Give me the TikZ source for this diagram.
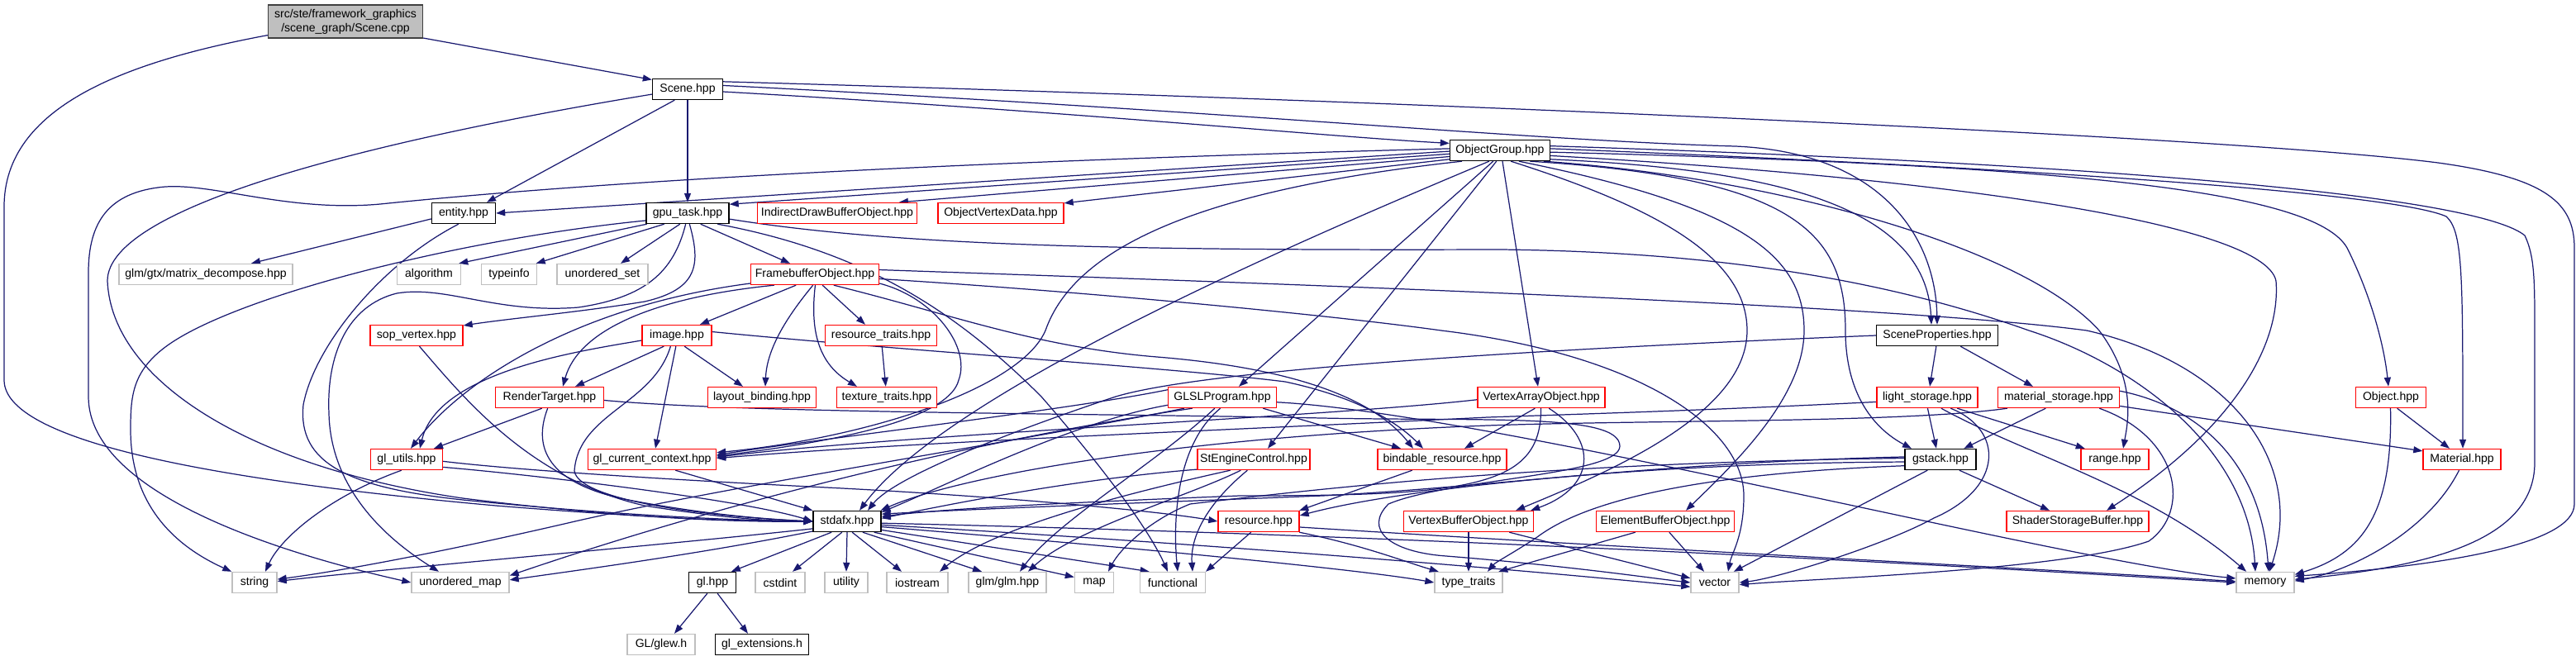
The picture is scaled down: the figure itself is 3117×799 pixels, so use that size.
\documentclass[tikz,border=0pt]{standalone}
\usepackage{fontspec}
\setmainfont{Liberation Sans}
\usetikzlibrary{arrows.meta,calc}
\definecolor{edgec}{HTML}{191970}
\definecolor{redc}{HTML}{FF0000}
\definecolor{gryc}{HTML}{BFBFBF}
\definecolor{blkc}{HTML}{000000}
\pgfdeclarelayer{bg}
\pgfsetlayers{bg,main}
\tikzset{
  nd/.style={draw, fill=white, line width=0.8pt, inner sep=0pt, minimum height=0.5cm,
    font=\fontsize{8}{9.6}\selectfont, text=black, anchor=center},
  blk/.style={nd, draw=blkc},
  redn/.style={nd, draw=redc},
  gryn/.style={nd, draw=gryc},
  e/.style={draw=edgec, line width=0.7pt, -{Triangle[length=0.22cm,width=0.16cm]}},
}
\begin{document}
\begin{tikzpicture}[x=0.02cm,y=-0.02cm]
\useasboundingbox (0,0) rectangle (3117,799);
% ---------- nodes ----------
\node[nd, draw=black!75, fill=gryc, minimum width=3.74cm, minimum height=0.8cm, align=center] (scenecpp) at (418,26) {src/ste/framework\_graphics\\/scene\_graph/Scene.cpp};
\node[blk, minimum width=1.70cm] (sceneh) at (832,108) {Scene.hpp};
\node[blk, minimum width=2.42cm] (objgroup) at (1815,182) {ObjectGroup.hpp};
\node[blk, minimum width=1.54cm] (entity) at (561,258) {entity.hpp};
\node[blk, minimum width=2.00cm] (gputask) at (832,258) {gpu\_task.hpp};
\node[redn, minimum width=3.86cm] (indirect) at (1013,258) {IndirectDrawBufferObject.hpp};
\node[redn, minimum width=3.04cm] (objvert) at (1211,258) {ObjectVertexData.hpp};
\node[gryn, minimum width=4.20cm] (matdec) at (249,332) {glm/gtx/matrix\_decompose.hpp};
\node[gryn, minimum width=1.54cm] (algorithm) at (519,332) {algorithm};
\node[gryn, minimum width=1.34cm] (typeinfo) at (616,332) {typeinfo};
\node[gryn, minimum width=2.20cm] (uset) at (729,332) {unordered\_set};
\node[redn, minimum width=3.10cm] (fbo) at (986,332) {FramebufferObject.hpp};
\node[blk, minimum width=2.94cm] (sceneprops) at (2344,406) {SceneProperties.hpp};
\node[redn, minimum width=2.24cm] (sopvertex) at (504,406) {sop\_vertex.hpp};
\node[redn, minimum width=1.68cm] (image) at (819,406) {image.hpp};
\node[redn, minimum width=2.70cm] (restraits) at (1066,406) {resource\_traits.hpp};
\node[redn, minimum width=2.62cm] (rendertarget) at (665,481) {RenderTarget.hpp};
\node[redn, minimum width=2.62cm] (layout) at (922,481) {layout\_binding.hpp};
\node[redn, minimum width=2.42cm] (textraits) at (1073,481) {texture\_traits.hpp};
\node[redn, minimum width=2.62cm] (glsl) at (1479,481) {GLSLProgram.hpp};
\node[redn, minimum width=3.08cm] (vao) at (1865,481) {VertexArrayObject.hpp};
\node[redn, minimum width=2.44cm] (lightst) at (2332,481) {light\_storage.hpp};
\node[redn, minimum width=2.94cm] (matst) at (2491,481) {material\_storage.hpp};
\node[redn, minimum width=1.70cm] (object) at (2893,481) {Object.hpp};
\node[redn, minimum width=1.74cm] (glutils) at (492,556) {gl\_utils.hpp};
\node[redn, minimum width=3.10cm] (glcc) at (789,556) {gl\_current\_context.hpp};
\node[redn, minimum width=2.72cm] (stengine) at (1517,556) {StEngineControl.hpp};
\node[redn, minimum width=3.12cm] (bindable) at (1745,556) {bindable\_resource.hpp};
\node[blk, minimum width=1.72cm] (gstack) at (2348,556) {gstack.hpp};
\node[redn, minimum width=1.64cm] (range) at (2559,556) {range.hpp};
\node[redn, minimum width=1.88cm] (material) at (2979,556) {Material.hpp};
\node[blk, minimum width=1.64cm] (stdafx) at (1025,631) {stdafx.hpp};
\node[redn, minimum width=1.96cm] (resource) at (1523,631) {resource.hpp};
\node[redn, minimum width=3.14cm] (vbo) at (1777,631) {VertexBufferObject.hpp};
\node[redn, minimum width=3.34cm] (ebo) at (2015,631) {ElementBufferObject.hpp};
\node[redn, minimum width=3.44cm] (ssb) at (2514,631) {ShaderStorageBuffer.hpp};
\node[gryn, minimum width=1.08cm] (string) at (308,705) {string};
\node[gryn, minimum width=2.36cm] (umap) at (557,705) {unordered\_map};
\node[blk, minimum width=1.14cm] (glhpp) at (862,705) {gl.hpp};
\node[gryn, minimum width=1.20cm] (cstdint) at (944,705) {cstdint};
\node[gryn, minimum width=1.04cm] (utility) at (1024,705) {utility};
\node[gryn, minimum width=1.48cm] (iostream) at (1110,705) {iostream};
\node[gryn, minimum width=1.88cm] (glm) at (1219,705) {glm/glm.hpp};
\node[gryn, minimum width=0.94cm] (map) at (1324,705) {map};
\node[gryn, minimum width=1.58cm] (functional) at (1419,705) {functional};
\node[gryn, minimum width=1.64cm] (typetraits) at (1777,705) {type\_traits};
\node[gryn, minimum width=1.16cm] (vector) at (2075,705) {vector};
\node[gryn, minimum width=1.40cm] (memory) at (2741,705) {memory};
\node[gryn, minimum width=1.64cm] (glew) at (800,780) {GL/glew.h};
\node[blk, minimum width=2.26cm] (glext) at (922,780) {gl\_extensions.h};
% ---------- edges ----------
\begin{pgfonlayer}{bg}
% Scene.cpp
\draw[e] (scenecpp.-12) -- (sceneh.165);
\draw[e] (scenecpp.190) .. controls (150,75) and (5,130) .. (5,250) -- (5,460) .. controls (5,540) and (300,585) .. (600,612) .. controls (800,628) and (900,631) .. (stdafx.west);
% Scene.hpp
\draw[e] (sceneh.-140) -- ($(entity.north)+(28,0)$);
\draw[e] (sceneh) -- (gputask);
\draw[e] (sceneh.-4) .. controls (1300,135) and (1600,165) .. (objgroup.172);
\draw[e] (sceneh.6) .. controls (1500,135) and (1850,170) .. (2100,177) .. controls (2280,185) and (2342,290) .. (sceneprops.north);
\draw[e] (sceneh.12) .. controls (1700,122) and (2700,165) .. (2950,197) .. controls (3080,215) and (3115,245) .. (3115,300) -- (3115,610) .. controls (3115,660) and (2950,685) .. (memory.12);
\draw[e] (sceneh.188) .. controls (450,170) and (130,250) .. (130,340) .. controls (135,460) and (300,565) .. (560,603) .. controls (760,628) and (900,632) .. (stdafx.west);
% ObjectGroup
\draw[e] (objgroup.181) -- (entity.east);
\draw[e] (objgroup.184) -- (gputask.12);
\draw[e] (objgroup.187) -- (indirect.10);
\draw[e] (objgroup.190) -- (objvert.9);
\draw[e] (objgroup.178) .. controls (1300,192) and (800,212) .. (460,247) .. controls (350,257) and (260,222) .. (200,226) .. controls (130,232) and (107,270) .. (107,330) -- (107,480) .. controls (107,600) and (350,672) .. (umap.west);
\draw[e] (objgroup.196) .. controls (1450,230) and (1300,300) .. (1265,400) .. controls (1235,470) and (1050,530) .. (glcc.6);
\draw[e] (objgroup.225) .. controls (1600,280) and (1150,470) .. ($(stdafx.north)+(15,0)$);
\draw[e] (objgroup.238) -- ($(glsl.north)+(20,0)$);
\draw[e] (objgroup.252) -- ($(stengine.north)+(17,0)$);
\draw[e] ($(objgroup.south)+(3,0)$) -- ($(vao.north)+(-4,0)$);
\draw[e] (objgroup.-45) .. controls (2000,250) and (2114,310) .. (2114,400) .. controls (2114,500) and (1950,570) .. ($(vbo.north east)+(-22,0)$);
\draw[e] (objgroup.-30) .. controls (2110,250) and (2183,310) .. (2183,400) .. controls (2183,480) and (2100,560) .. ($(ebo.north)+(25,0)$);
\draw[e] (objgroup.-20) .. controls (2170,215) and (2233,280) .. (2233,400) .. controls (2233,480) and (2270,520) .. ($(gstack.north)+(-35,0)$);
\draw[e] (objgroup.-10) .. controls (2150,205) and (2330,250) .. ($(sceneprops.north)+(-7,0)$);
\draw[e] (objgroup.-6) .. controls (2350,215) and (2740,270) .. (2754,340) .. controls (2760,420) and (2700,520) .. ($(ssb.north)+(35,0)$);
\draw[e] (objgroup.-14) .. controls (2150,215) and (2450,300) .. (2540,400) .. controls (2585,460) and (2575,510) .. ($(range.north)+(10,0)$);
\draw[e] (objgroup.-2) .. controls (2500,200) and (2800,230) .. (2840,300) .. controls (2870,360) and (2885,420) .. ($(object.north)+(-3,0)$);
\draw[e] (objgroup.2) .. controls (2500,205) and (2900,235) .. (2960,262) .. controls (2980,280) and (2980,330) .. ($(material.north)+(1,0)$);
\draw[e] (objgroup.5) .. controls (2600,200) and (3000,240) .. (3055,285) .. controls (3067,310) and (3067,340) .. (3067,400) -- (3067,560) .. controls (3067,650) and (2950,685) .. (memory.6);
% entity
\draw[e] (entity.190) -- ($(matdec.north)+(55,0)$);
\draw[e] (entity.-115) .. controls (460,320) and (380,420) .. (367,490) .. controls (360,560) and (420,590) .. (560,605) .. controls (760,625) and (900,630) .. (stdafx.west);
% gpu_task
\draw[e] (gputask.195) -- (algorithm.20);
\draw[e] (gputask.205) -- (typeinfo.22);
\draw[e] (gputask.235) -- ($(uset.north)+(22,0)$);
\draw[e] (gputask.-40) -- ($(fbo.north)+(-30,0)$);
\draw[e] (gputask.190) .. controls (550,290) and (280,360) .. (200,420) .. controls (160,450) and (158,480) .. (158,520) .. controls (158,610) and (210,660) .. (string.north west);
\draw[e] (gputask.-80) .. controls (848,320) and (845,350) .. (780,365) .. controls (700,378) and (620,385) .. (sopvertex.12);
\draw[e] (gputask.-100) .. controls (815,330) and (780,360) .. (700,372) .. controls (600,380) and (540,345) .. (480,355) .. controls (420,370) and (395,430) .. (398,500) .. controls (400,600) and (480,660) .. ($(umap.north)+(-26,0)$);
\draw[e] (gputask.-20) .. controls (1050,305) and (1160,380) .. (1260,480) .. controls (1330,560) and (1390,640) .. ($(functional.north)+(-6,0)$);
\draw[e] (gputask.-8) .. controls (1100,300) and (1400,303) .. (1815,302) .. controls (2100,305) and (2300,345) .. (2455,400) .. controls (2580,440) and (2720,540) .. ($(memory.north)+(-12,0)$);
% FramebufferObject
\draw[e] (fbo.-150) -- ($(image.north)+(28,0)$);
\draw[e] (fbo.-55) -- ($(restraits.north)+(-19,0)$);
\draw[e] (fbo.-100) .. controls (955,380) and (928,420) .. ($(layout.north)+(4,0)$);
\draw[e] (fbo.-88) .. controls (980,400) and (990,440) .. ($(textraits.north)+(-36,0)$);
\draw[e] (fbo.195) .. controls (790,360) and (700,400) .. ($(rendertarget.north)+(16,0)$);
\draw[e] (fbo.188) .. controls (700,370) and (560,460) .. ($(glutils.north)+(5,0)$);
\draw[e] (fbo.-8) .. controls (1130,360) and (1175,420) .. (1160,460) .. controls (1150,500) and (1050,530) .. (glcc.3);
\draw[e] (fbo.-30) .. controls (1150,380) and (1253,420) .. (1400,432) .. controls (1560,445) and (1660,480) .. ($(bindable.north)+(-35,0)$);
\draw[e] (fbo.-4) .. controls (1300,352) and (1600,380) .. (1744,400) .. controls (1990,430) and (2110,520) .. (2110,600) .. controls (2110,650) and (2095,670) .. ($(vector.north)+(16,0)$);
\draw[e] (fbo.4) .. controls (1600,345) and (2300,370) .. (2525,400) .. controls (2700,440) and (2790,560) .. ($(memory.north)+(5,0)$);
% image
\draw[e] (image.-140) -- ($(rendertarget.north)+(31,0)$);
\draw[e] (image.-55) -- ($(layout.north)+(-23,0)$);
\draw[e] (image.-95) -- ($(glcc.north)+(4,0)$);
\draw[e] (image.188) .. controls (700,425) and (530,450) .. ($(glutils.north)+(16,0)$);
\draw[e] (image.-120) .. controls (790,490) and (700,500) .. (695,570) .. controls (700,605) and (850,625) .. (stdafx.west);
\draw[e] (image.6) .. controls (1100,425) and (1420,445) .. (1555,462) .. controls (1640,480) and (1690,510) .. ($(bindable.north)+(-23,0)$);
% resource_traits
\draw[e] (restraits) -- (textraits);
% RenderTarget
\draw[e] (rendertarget.-125) -- ($(glutils.north)+(33,0)$);
\draw[e] (rendertarget.-100) .. controls (645,540) and (660,585) .. (760,605) .. controls (850,622) and (920,628) .. (stdafx.west);
\draw[e] (rendertarget.-3) .. controls (900,500) and (1300,500) .. (1600,506) .. controls (1800,510) and (1960,500) .. (1960,540) .. controls (1960,575) and (1750,580) .. (1680,610) .. controls (1650,640) and (1680,668) .. (1750,673) .. controls (1900,685) and (2000,700) .. (vector.west);
% sop_vertex
\draw[e] (sopvertex.-75) .. controls (560,480) and (640,580) .. (780,612) .. controls (880,628) and (940,631) .. (stdafx.west);
% gl_utils
\draw[e] (glutils.-115) .. controls (400,600) and (340,650) .. ($(string.north)+(13,0)$);
\draw[e] (glutils.-12) .. controls (650,575) and (900,605) .. (stdafx.west);
\draw[e] (glutils.-3) .. controls (650,572) and (900,585) .. (1000,590) .. controls (1200,600) and (1400,618) .. (resource.west);
% gl_current_context
\draw[e] (glcc.-25) -- (stdafx.north west);
% GLSLProgram
\draw[e] (glsl.172) .. controls (1300,495) and (1000,530) .. (glcc.4);
\draw[e] (glsl.-15) -- ($(bindable.north)+(-50,0)$);
\draw[e] (glsl.188) .. controls (1300,510) and (1150,585) .. (stdafx.15);
\draw[e] (glsl.-125) .. controls (1400,560) and (1280,630) .. ($(glm.north)+(15,0)$);
\draw[e] (glsl.-100) .. controls (1420,540) and (1420,640) .. ($(functional.north)+(6,0)$);
\draw[e] (glsl.196) .. controls (1200,540) and (900,585) .. (700,630) .. controls (550,665) and (420,690) .. (string.8);
\draw[e] (glsl.200) .. controls (1200,530) and (900,600) .. (umap.8);
\draw[e] (glsl.-5) .. controls (1800,500) and (2500,680) .. (memory.172);
% StEngineControl
\draw[e] (stengine.190) .. controls (1300,580) and (1150,610) .. (stdafx.5);
\draw[e] (stengine.-140) .. controls (1440,600) and (1300,640) .. ($(glm.north)+(25,0)$);
\draw[e] (stengine.-155) .. controls (1350,600) and (1200,640) .. ($(iostream.north)+(27,0)$);
\draw[e] (stengine.-120) .. controls (1460,610) and (1440,650) .. ($(functional.north)+(24,0)$);
% resource
\draw[e] (resource.-125) -- ($(functional.north)+(40,0)$);
\draw[e] (resource.-15) .. controls (1650,660) and (1700,680) .. (typetraits.160);
\draw[e] (resource.-8) .. controls (2000,665) and (2500,690) .. (memory.178);
% bindable_resource
\draw[e] (bindable.-160) -- (resource.15);
% VertexArrayObject
\draw[e] (vao.-120) -- ($(bindable.north)+(27,0)$);
\draw[e] (vao.-55) .. controls (1935,533) and (1930,590) .. ($(vbo.north east)+(-4,0)$);
\draw[e] (vao.-92) .. controls (1865,590) and (1780,600) .. (1500,600) .. controls (1300,608) and (1150,615) .. (stdafx.8);
\draw[e] (vao.182) .. controls (1600,505) and (1100,525) .. (glcc.2);
% VertexBufferObject
\draw[e] (vbo.south) -- (typetraits.north);
\draw[e] (vbo.-15) -- (vector.170);
% ElementBufferObject
\draw[e] (ebo.-160) -- (typetraits.20);
\draw[e] (ebo.-70) -- ($(vector.north)+(-13,0)$);
% gstack
\draw[e] (gstack.-30) -- ($(ssb.north)+(-34,0)$);
\draw[e] (gstack.-140) -- (vector.30);
\draw[e] (gstack.190) .. controls (2000,575) and (1900,620) .. (1860,650) .. controls (1830,670) and (1810,680) .. ($(typetraits.north)+(23,0)$);
\draw[e] (gstack.184) .. controls (2000,560) and (1700,590) .. (resource.8);
\draw[e] (gstack.178) .. controls (1900,560) and (1650,585) .. (1440,610) .. controls (1390,630) and (1355,665) .. ($(map.north)+(17,0)$);
\draw[e] (gstack.176) .. controls (2000,560) and (1800,590) .. (1600,600) .. controls (1400,608) and (1200,615) .. (stdafx.12);
% light_storage
\draw[e] (lightst.-88) -- ($(gstack.north)+(-5,0)$);
\draw[e] (lightst.-20) -- (range.160);
\draw[e] (lightst.-38) .. controls (2450,550) and (2600,590) .. (memory.150);
\draw[e] (lightst.-25) .. controls (2425,520) and (2425,590) .. (2340,627) .. controls (2280,660) and (2150,700) .. (vector.east);
\draw[e] (lightst.185) .. controls (2100,495) and (1950,500) .. (1800,505) .. controls (1500,520) and (1100,535) .. (glcc.1);
% material_storage
\draw[e] (matst.-140) -- (gstack.25);
\draw[e] (matst.-8) -- (material.168);
\draw[e] (matst.6) .. controls (2650,490) and (2735,550) .. ($(memory.north)+(4,0)$);
\draw[e] (matst.-15) .. controls (2640,530) and (2650,620) .. (2600,655) .. controls (2500,690) and (2200,700) .. (vector.-5);
\draw[e] (matst.192) .. controls (2300,512) and (2000,508) .. (1800,515) .. controls (1400,530) and (1150,580) .. (stdafx.18);
% SceneProperties
\draw[e] (sceneprops.-95) -- ($(lightst.north)+(3,0)$);
\draw[e] (sceneprops.-25) -- ($(matst.north)+(-31,0)$);
\draw[e] (sceneprops.west) .. controls (1800,425) and (1450,450) .. (1350,480) .. controls (1200,530) and (1080,580) .. ($(stdafx.north)+(25,0)$);
% Object / Material
\draw[e] (object.-60) -- ($(material.north)+(-15,0)$);
\draw[e] (object.-92) .. controls (2895,620) and (2860,670) .. (memory.15);
\draw[e] (material.-105) .. controls (2940,640) and (2850,690) .. (memory.3);
% stdafx
\draw[e] (stdafx.192) .. controls (800,660) and (450,690) .. (string.3);
\draw[e] (stdafx.196) .. controls (850,670) and (700,690) .. (umap.3);
\draw[e] (stdafx.-145) -- (glhpp.30);
\draw[e] (stdafx.-115) -- ($(cstdint.north)+(15,0)$);
\draw[e] (stdafx.south) -- (utility.north);
\draw[e] (stdafx.-65) -- ($(iostream.north)+(-19,0)$);
\draw[e] (stdafx.-35) -- ($(glm.north)+(-31,0)$);
\draw[e] (stdafx.-22) -- (map.165);
\draw[e] (stdafx.-14) -- (functional.155);
\draw[e] (stdafx.-9) .. controls (1400,665) and (1650,690) .. (typetraits.west);
\draw[e] (stdafx.-6) .. controls (1500,660) and (1900,695) .. (vector.190);
\draw[e] (stdafx.-3) .. controls (1800,650) and (2450,690) .. (memory.west);
% gl.hpp
\draw[e] (glhpp.-115) -- ($(glew.north)+(16,0)$);
\draw[e] (glhpp.-65) -- ($(glext.north)+(-17,0)$);
\end{pgfonlayer}
\end{tikzpicture}
\end{document}
